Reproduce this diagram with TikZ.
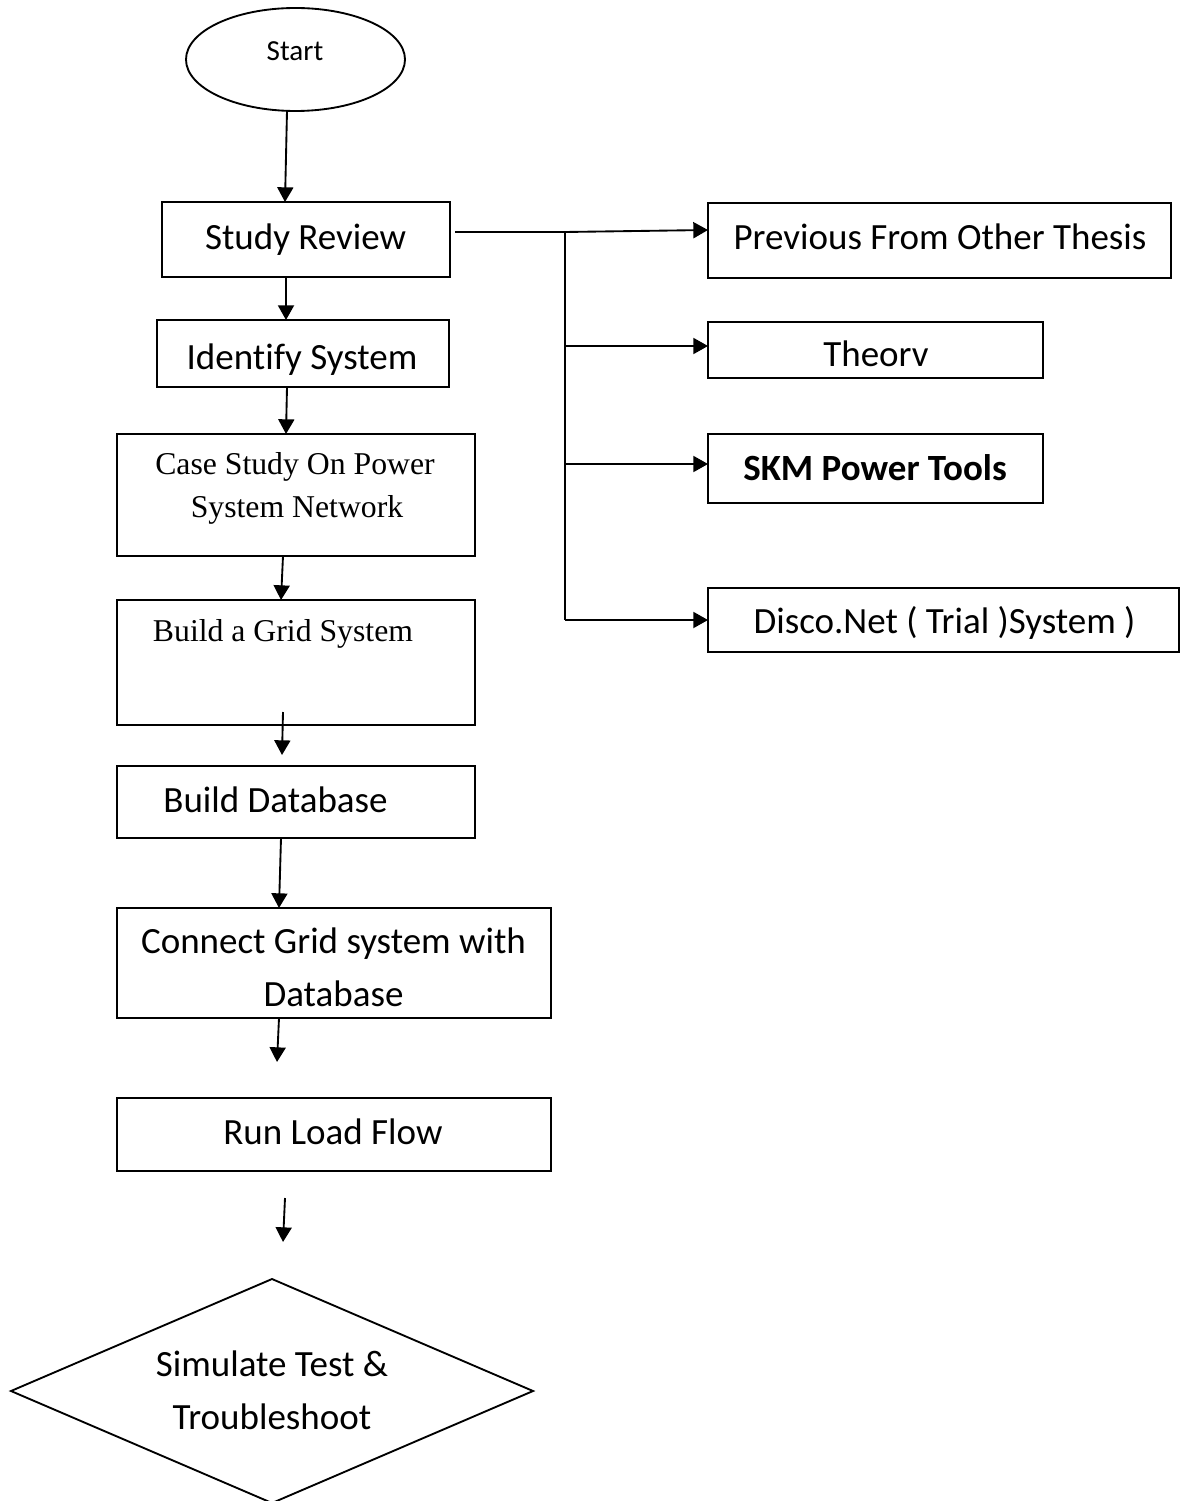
\documentclass[tikz,border=0pt]{standalone}
\usepackage{fontspec}
\setmainfont[Ligatures=NoCommon]{Carlito}
\newfontfamily\timesf{Liberation Serif}
\usetikzlibrary{arrows.meta,shapes.geometric,fit,calc}
\tikzset{
  box/.style={draw, line width=1.5pt, inner sep=0pt, outer sep=0pt},
  ln/.style={line width=1.4pt},
  arr/.style={line width=1.4pt, -{Triangle[length=11pt,width=12pt]}},
  txt/.style={inner sep=0pt, anchor=base, font=\fontsize{27.75pt}{33pt}\selectfont},
  stxt/.style={inner sep=0pt, anchor=base, font=\fontsize{21.8pt}{26pt}\selectfont},
  ttxt/.style={inner sep=0pt, anchor=base, font=\timesf\fontsize{23.8pt}{28pt}\selectfont},
}
\begin{document}
\begin{tikzpicture}[x=0.75pt,y=-0.75pt]
\useasboundingbox[fill=white] (0,0) rectangle (1180,1501);

% left column shapes
\node[ellipse, draw, line width=1.4pt, inner sep=0pt, outer sep=0pt,
      minimum width=219*0.75pt, minimum height=103*0.75pt] (st) at (295.5,59.5) {};
\node[box, fit={(162,202) (450,277)}] (sr) {};
\node[box, fit={(157,320) (449,387)}] (id) {};
\node[box, fit={(117,434) (475,556)}] (cs) {};
\node[box, fit={(117,600) (475,725)}] (bg) {};
\node[box, fit={(117,766) (475,838)}] (bd) {};
\node[box, fit={(117,908) (551,1018)}] (cg) {};
\node[box, fit={(117,1098) (551,1171)}] (rl) {};
\node[diamond, draw, line width=1.4pt, inner sep=0pt, outer sep=0pt, aspect=2.33,
      minimum width=522*0.75pt, minimum height=224*0.75pt] (dm) at (272,1391) {};

% right column shapes
\node[box, fit={(708,203) (1171,278)}] (pt) {};
\node[box, fit={(708,322) (1043,378)}] (th) {};
\node[box, fit={(708,434) (1043,503)}] (sk) {};
\node[box, fit={(708,588) (1179,652)}] (dn) {};

% texts
\node[stxt] (tst) at (295,61) {Start};
\node[txt] (tsr) at (305.5,250) {Study Review};
\node[txt] (tid) at (302,369) {Identify System};
\node[ttxt] (tcs1) at (295,474) {Case Study On Power};
\node[ttxt] (tcs2) at (297,517) {System Network};
\node[ttxt] (tbg) at (283,641) {Build a Grid System};
\node[txt] (tbd) at (275.5,812) {Build Database};
\node[txt] (tcg1) at (333.5,953) {Connect Grid system with};
\node[txt] (tcg2) at (333.5,1006) {Database};
\node[txt] (trl) at (333,1144) {Run Load Flow};
\node[txt] (tdm1) at (272,1376) {Simulate Test \&};
\node[txt] (tdm2) at (272,1429) {Troubleshoot};
\node[txt] (tpt) at (940,250) {Previous From Other Thesis};
\node[txt] (tth) at (876,366) {Theorv};
\node[txt, font=\fontsize{27.75pt}{33pt}\selectfont\bfseries] (tsk) at (875,480) {SKM Power Tools};
\node[txt] (tdn) at (944.5,633) {Disco.Net ( Trial )System )};

% main flow arrows
\draw[arr] ($(st.south)+(-8.5,0)$) -- ($(sr.north)+(-21,0)$);
\draw[arr] ($(sr.south)+(-20,0)$) -- ($(id.north)+(-17,0)$);
\draw[arr] ($(id.south)+(-16,0)$) -- ($(cs.north)+(-10,0)$);
\draw[arr] ($(cs.south)+(-13,0)$) -- ($(bg.north)+(-15,0)$);
\draw[arr] ($(bg.south)+(-13,-13)$) -- ($(bd.north)+(-14,-11)$);
\draw[arr] ($(bd.south)+(-15,0)$) -- ($(cg.north)+(-55,0)$);
\draw[arr] ($(cg.south)+(-55,0)$) -- ($(rl.north)+(-57,-36)$);
\draw[arr] ($(rl.south)+(-49,27)$) -- ($(dm.north)+(11,-37)$);

% branch connectors
\coordinate (j1) at (565,232);
\coordinate (j2) at (565,346);
\coordinate (j3) at (565,464);
\coordinate (j4) at (565,620);
\draw[ln] ($(sr.east)+(5,-7.5)$) -- (j1);
\draw[ln] (j1) -- (j4);
\draw[arr] (j1) -- ($(pt.west)+(0,-10.5)$);
\draw[arr] (j2) -- ($(th.west)+(0,-4)$);
\draw[arr] (j3) -- ($(sk.west)+(0,-4.5)$);
\draw[arr] (j4) -- (dn.west);
\end{tikzpicture}
\end{document}
